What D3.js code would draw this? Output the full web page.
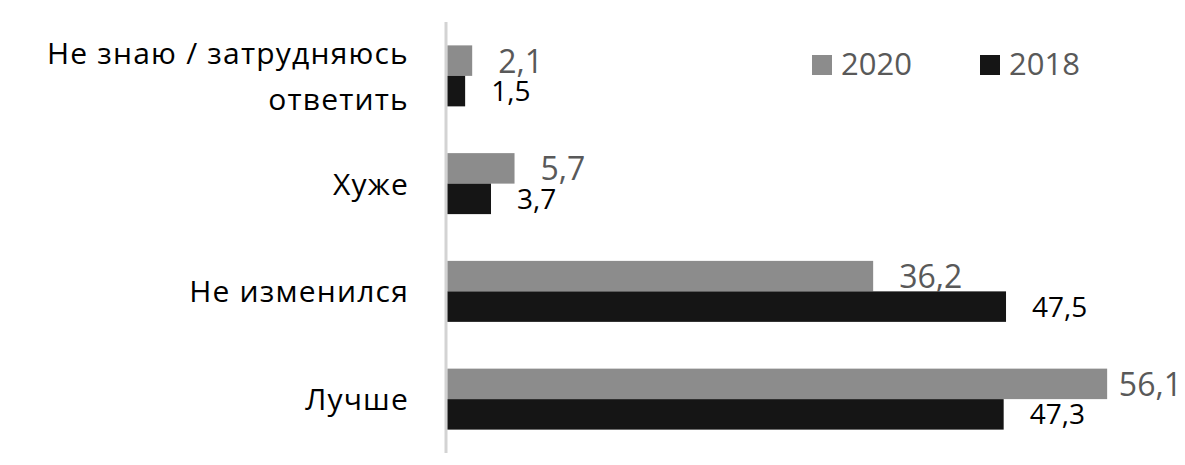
<!DOCTYPE html>
<html>
<head>
<meta charset="utf-8">
<script src="https://cdn.jsdelivr.net/npm/d3@7"></script>
<style>
  html, body { margin: 0; padding: 0; background: #ffffff; }
  svg { display: block; }
  text { font-family: "Open Sans", "Noto Sans", sans-serif; }
</style>
</head>
<body>
<svg id="chart" width="1185" height="465"></svg>
<script>
// ---- data ----
const categories = ["Не знаю / затрудняюсь\nответить", "Хуже", "Не изменился", "Лучше"];
const seriesNames = ["2020", "2018"];
const values2020 = [2.1, 5.7, 36.2, 56.1];
const values2018 = [1.5, 3.7, 47.5, 47.3];
const seriesColors = ["#8c8c8c", "#151515"];
const labelColors = ["#595959", "#000000"];

const W = 1185, H = 465;
const svg = d3.select("#chart");

const x = d3.scaleLinear().domain([0, 60]).range([447.5, 1153]);
const y = d3.scaleBand().domain(categories).range([22, 453]).paddingInner(0.434).paddingOuter(0.217);
const ys = d3.scaleBand().domain(seriesNames).range([0, y.bandwidth()]);

const seriesData = [values2020, values2018];
const fmt = v => d3.format(".1f")(v).replace(".", ",");

// axis line (category axis)
svg.append("line")
  .attr("x1", 446).attr("x2", 446)
  .attr("y1", y.range()[0]).attr("y2", y.range()[1])
  .attr("stroke", "#d3d3d3").attr("stroke-width", 3);

// bars
seriesNames.forEach((s, si) => {
  const g = svg.append("g");
  g.selectAll("rect").data(categories).join("rect")
    .attr("x", x(0))
    .attr("y", c => y(c) + ys(s))
    .attr("width", (c, i) => x(seriesData[si][i]) - x(0))
    .attr("height", ys.bandwidth())
    .attr("fill", seriesColors[si]);
});

// value labels
const labelSize = [32, 28];
const capHalf = [12, 10];
seriesNames.forEach((s, si) => {
  const g = svg.append("g");
  g.selectAll("text").data(categories).join("text")
    .attr("y", c => y(c) + ys(s) + ys.bandwidth() / 2 + capHalf[si])
    .attr("font-size", labelSize[si])
    .attr("fill", labelColors[si])
    .text((c, i) => fmt(seriesData[si][i]))
    .each(function (c, i) {
      const w = this.getComputedTextLength();
      const px = Math.min(x(seriesData[si][i]) + 26, W - 3 - w);
      d3.select(this).attr("x", px);
    });
});

// category labels
const catG = svg.append("g");
categories.forEach(c => {
  const lines = c.split("\n");
  const cy = y(c) + y.bandwidth() / 2;
  const lh = 46;
  const t = catG.append("text")
    .attr("text-anchor", "end")
    .attr("font-size", 30)
    .attr("letter-spacing", 1.2)
    .attr("fill", "#000");
  lines.forEach((ln, li) => {
    t.append("tspan")
      .attr("x", 409)
      .attr("y", cy + 11 + (li - (lines.length - 1) / 2) * lh)
      .text(ln);
  });
});

// legend
const legendX = [812, 980];
const leg = svg.append("g");
seriesNames.forEach((s, si) => {
  leg.append("rect")
    .attr("x", legendX[si]).attr("y", 55)
    .attr("width", 20).attr("height", 20)
    .attr("fill", seriesColors[si]);
  leg.append("text")
    .attr("x", legendX[si] + 29).attr("y", 75)
    .attr("font-size", 31)
    .attr("fill", "#595959")
    .text(s);
});
</script>
</body>
</html>
